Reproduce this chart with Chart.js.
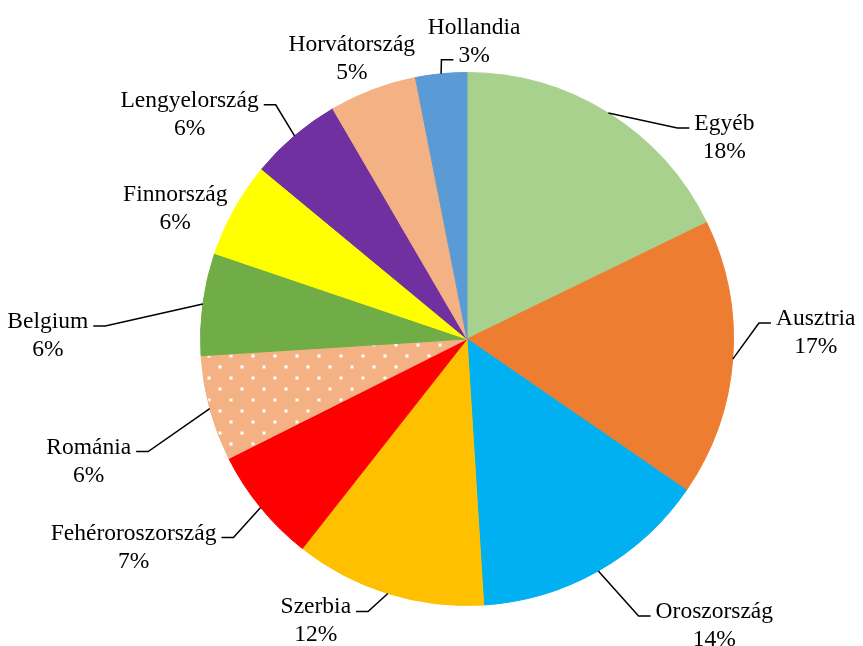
<!DOCTYPE html>
<html>
<head>
<meta charset="utf-8">
<script src="https://cdn.jsdelivr.net/npm/chart.js@4.4.1/dist/chart.umd.min.js"></script>
<style>
  html, body { margin: 0; padding: 0; background: #fff; }
  #wrap { width: 863px; height: 646px; }
</style>
</head>
<body>
<div id="wrap"><canvas id="pie-Chart"></canvas></div>
<script>
var countries = ['Egyéb', 'Ausztria', 'Oroszország', 'Szerbia', 'Fehéroroszország', 'Románia', 'Belgium', 'Finnország', 'Lengyelország', 'Horvátország', 'Hollandia'];
var shares = [17.8, 16.8, 14.4, 11.6, 7.0, 6.4, 6.2, 5.8, 5.6, 5.3, 3.1];
var sliceColors = ['#A9D18E', '#ED7D31', '#00B0F0', '#FFC000', '#FF0000', '#F4B183', '#70AD47', '#FFFF00', '#7030A0', '#F4B183', '#5B9BD5'];

// where each label sits, relative to the outer middle of its slice
var labelPlaces = [
    { dx: 116, dy: 17, attach: 'left', row: 0 },
    { dx: 83, dy: -34, attach: 'left', row: 0 },
    { dx: 116, dy: 47, attach: 'left', row: 0 },
    { dx: -72, dy: 20, attach: 'right', row: 0 },
    { dx: -127, dy: 32, attach: 'right', row: 0 },
    { dx: -121, dy: 45, attach: 'right', row: 0 },
    { dx: -155, dy: 24, attach: 'right', row: 0 },
    { dx: -59, dy: -8, attach: null, row: 0 },
    { dx: -105, dy: -29, attach: 'right', row: 0 },
    { dx: -21, dy: -39, attach: null, row: 0 },
    { dx: 33, dy: -40, attach: 'left', row: 1 }
];
var lineGap = 28;

function dotPattern(base) {
    var tile = document.createElement('canvas');
    tile.width = 22;
    tile.height = 22;
    var c = tile.getContext('2d');
    c.fillStyle = base;
    c.fillRect(0, 0, 22, 22);
    [[11, 4], [0, 15], [22, 15]].forEach(function(p) {
        c.fillStyle = 'rgba(255,255,255,0.4)';
        c.beginPath();
        c.arc(p[0], p[1], 2.3, 0, Math.PI * 2);
        c.fill();
        c.fillStyle = '#fff';
        c.beginPath();
        c.arc(p[0], p[1], 1.3, 0, Math.PI * 2);
        c.fill();
    });
    return c.createPattern(tile, 'repeat');
}

var fills = sliceColors.map(function(col, i) {
    return countries[i] === 'Románia' ? dotPattern(col) : col;
});

var calloutLabels = {
    id: 'calloutLabels',
    afterDatasetsDraw: function(chart) {
        var ctx = chart.ctx;
        var meta = chart.getDatasetMeta(0);
        var data = chart.data.datasets[0].data;
        var total = data.reduce(function(a, b) { return a + b; }, 0);
        ctx.save();
        ctx.font = '23.5px "Liberation Serif", "Times New Roman", serif';
        ctx.fillStyle = '#000';
        ctx.strokeStyle = '#000';
        ctx.lineWidth = 1.5;
        ctx.textAlign = 'center';
        ctx.textBaseline = 'alphabetic';
        meta.data.forEach(function(arc, i) {
            var p = arc.getProps(['x', 'y', 'startAngle', 'endAngle', 'outerRadius'], true);
            var mid = (p.startAngle + p.endAngle) / 2;
            var px = p.x + Math.cos(mid) * p.outerRadius;
            var py = p.y + Math.sin(mid) * p.outerRadius;
            var place = labelPlaces[i];
            var cx = px + place.dx;
            var by = py + place.dy;
            var lines = [chart.data.labels[i], Math.round(data[i] / total * 100) + '%'];
            ctx.fillText(lines[0], cx, by);
            ctx.fillText(lines[1], cx, by + lineGap);
            if (place.attach) {
                var w = ctx.measureText(lines[place.row]).width;
                var ay = by + place.row * lineGap - 2;
                var ax = place.attach === 'left' ? cx - w / 2 - 5 : cx + w / 2 + 5;
                var ex = place.attach === 'left' ? ax - 12 : ax + 12;
                ctx.beginPath();
                ctx.moveTo(px, py);
                ctx.lineTo(ex, ay);
                ctx.lineTo(ax, ay);
                ctx.stroke();
            }
        });
        ctx.restore();
    }
};

new Chart('pie-Chart', {
    type: 'pie',
    data: {
        labels: countries,
        datasets: [{
            data: shares,
            backgroundColor: fills,
            borderColor: sliceColors,
            borderWidth: 1
        }]
    },
    options: {
        responsive: true,
        maintainAspectRatio: false,
        animation: false,
        layout: {
            padding: { left: 200, right: 129, top: 72, bottom: 40 }
        },
        plugins: {
            legend: { display: false },
            tooltip: { enabled: false }
        }
    },
    plugins: [calloutLabels]
});
</script>
</body>
</html>
